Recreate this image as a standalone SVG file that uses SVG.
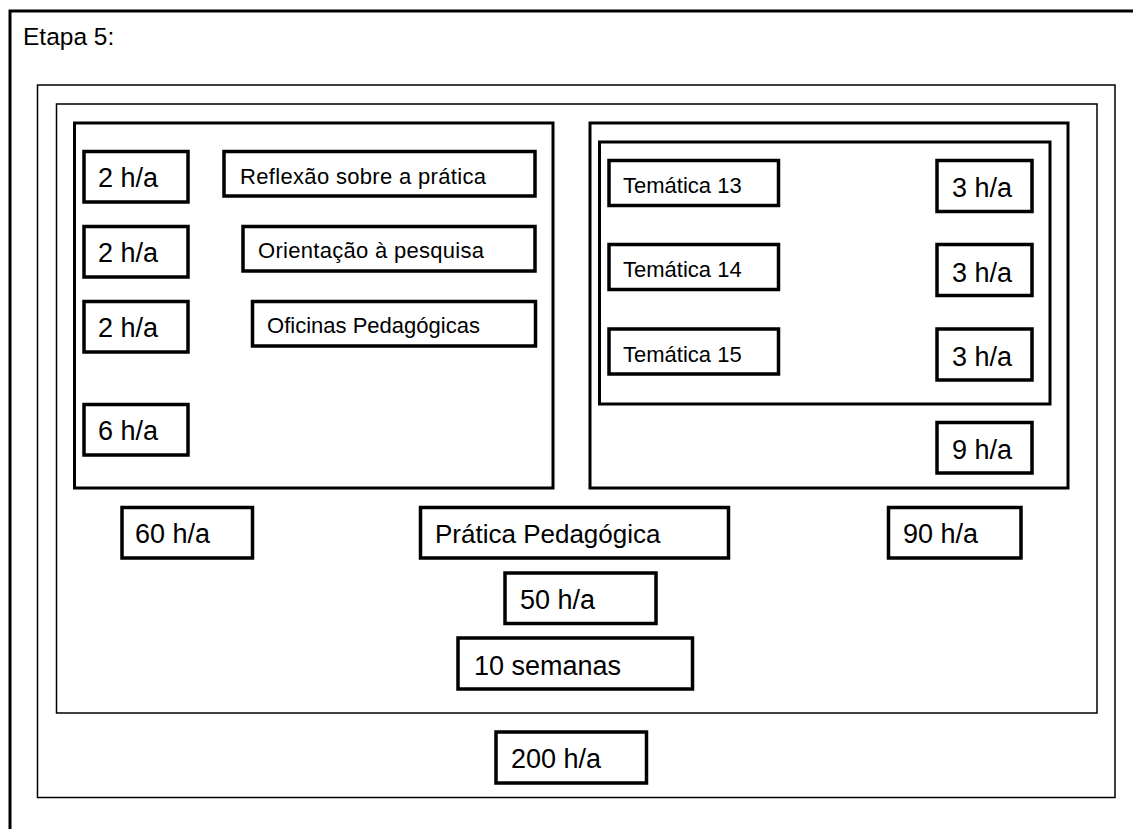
<svg xmlns="http://www.w3.org/2000/svg" width="1133" height="829" viewBox="0 0 1133 829">
<style>
.thin{fill:none;stroke:#000;stroke-width:1.5}
.thick{fill:none;stroke:#000;stroke-width:3}
.box{fill:#fff;stroke:#000;stroke-width:3.5}
.big{font-family:"Liberation Sans",Arial,sans-serif;font-size:27px;fill:#000}
.small{font-family:"Liberation Sans",Arial,sans-serif;font-size:22px;fill:#000}
.mid{font-family:"Liberation Sans",Arial,sans-serif;font-size:26px;fill:#000}
</style>
<rect width="1133" height="829" fill="#fff"/>
<g id="frame">
<rect class="thick" x="10" y="11" width="1135" height="830"/>
<text x="23" y="45" style="font-family:'Liberation Sans',Arial,sans-serif;font-size:24.5px">Etapa 5:</text>
</g>
<g id="outer"><rect class="thin" x="37.5" y="85" width="1077.5" height="712.5"/></g>
<g id="inner"><rect class="thin" x="56.5" y="104" width="1040.5" height="609"/></g>
<g id="left-group"><rect class="thick" x="74.5" y="123" width="478.5" height="365"/></g>
<g id="right-group"><rect class="thick" x="590" y="123" width="478" height="365"/></g>
<g id="tematicas"><rect class="thick" x="599.5" y="142" width="450.5" height="262"/></g>
<g id="l1"><rect class="box" x="84" y="151.5" width="104" height="50.5"/><text class="big" x="98" y="187">2 h/a</text></g>
<g id="l2"><rect class="box" x="84" y="226.5" width="104" height="50.5"/><text class="big" x="98" y="262">2 h/a</text></g>
<g id="l3"><rect class="box" x="84" y="301.5" width="104" height="50.5"/><text class="big" x="98" y="337">2 h/a</text></g>
<g id="l4"><rect class="box" x="84" y="404.5" width="104" height="50.5"/><text class="big" x="98" y="440">6 h/a</text></g>
<g id="reflexao"><rect class="box" x="224" y="151.5" width="311" height="44.5"/><text class="small" x="240" y="184" textLength="246">Reflexão sobre a prática</text></g>
<g id="orientacao"><rect class="box" x="243" y="226.5" width="292" height="44.5"/><text class="small" x="258" y="258" textLength="226">Orientação à pesquisa</text></g>
<g id="oficinas"><rect class="box" x="252.5" y="301.5" width="283" height="44.5"/><text class="small" x="267" y="333" textLength="213">Oficinas Pedagógicas</text></g>
<g id="t13"><rect class="box" x="609" y="160.5" width="169.5" height="45"/><text class="small" x="623" y="193">Temática 13</text></g>
<g id="t14"><rect class="box" x="609" y="244.5" width="169.5" height="45"/><text class="small" x="623" y="277">Temática 14</text></g>
<g id="t15"><rect class="box" x="609" y="329" width="169.5" height="45"/><text class="small" x="623" y="362">Temática 15</text></g>
<g id="r1"><rect class="box" x="937" y="160.5" width="95" height="51"/><text class="big" x="952" y="197">3 h/a</text></g>
<g id="r2"><rect class="box" x="937" y="244.5" width="95" height="51"/><text class="big" x="952" y="282">3 h/a</text></g>
<g id="r3"><rect class="box" x="937" y="329" width="95" height="51"/><text class="big" x="952" y="366">3 h/a</text></g>
<g id="r4"><rect class="box" x="937" y="422.5" width="95" height="50.5"/><text class="big" x="952" y="459">9 h/a</text></g>
<g id="h60"><rect class="box" x="122" y="507.5" width="130.5" height="50.5"/><text class="big" x="135" y="543">60 h/a</text></g>
<g id="pratica"><rect class="box" x="420.5" y="507.5" width="308" height="50.5"/><text class="mid" x="435" y="543">Prática Pedagógica</text></g>
<g id="h90"><rect class="box" x="888.5" y="507.5" width="132.5" height="50.5"/><text class="big" x="903" y="543">90 h/a</text></g>
<g id="h50"><rect class="box" x="505" y="573" width="151" height="50.5"/><text class="big" x="520" y="609">50 h/a</text></g>
<g id="semanas"><rect class="box" x="458" y="638" width="234.5" height="51"/><text class="big" x="474" y="675">10 semanas</text></g>
<g id="h200"><rect class="box" x="496" y="732" width="150.5" height="51"/><text class="big" x="511" y="768">200 h/a</text></g>
<g id="connectors"></g>
</svg>
